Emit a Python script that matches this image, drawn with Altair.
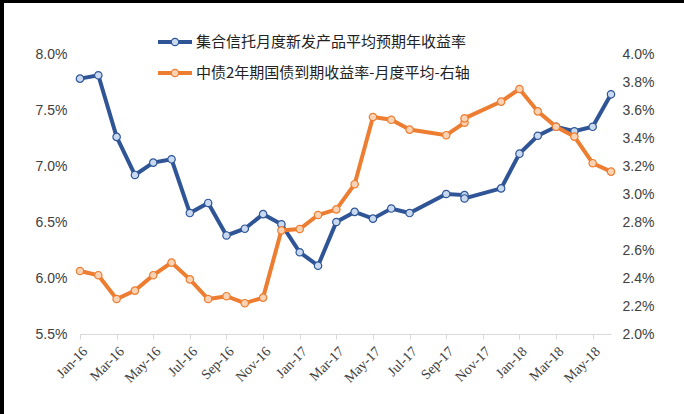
import altair as alt
import pandas as pd

month_labels = ["Jan-16", "Feb-16", "Mar-16", "Apr-16", "May-16", "Jun-16", "Jul-16", "Aug-16",
                "Sep-16", "Oct-16", "Nov-16", "Dec-16", "Jan-17", "Feb-17", "Mar-17", "Apr-17",
                "May-17", "Jun-17", "Jul-17", "Aug-17", "Sep-17", "Oct-17", "Nov-17", "Dec-17",
                "Jan-18", "Feb-18", "Mar-18", "Apr-18", "May-18", "Jun-18"]

trust_idx = [0, 1, 2, 3, 4, 5, 6, 7, 8, 9, 10, 11, 12, 13, 14, 15, 16, 17, 18, 20, 21, 21, 23,
             24, 25, 26, 27, 28, 29]
trust_rate = [7.78, 7.81, 7.26, 6.92, 7.03, 7.06, 6.58, 6.67, 6.38, 6.44, 6.57, 6.48, 6.23, 6.11,
              6.50, 6.59, 6.53, 6.62, 6.58, 6.75, 6.74, 6.71, 6.80, 7.11, 7.27, 7.35, 7.31, 7.35, 7.64]

bond_idx = [0, 1, 2, 3, 4, 5, 6, 7, 8, 9, 10, 11, 12, 13, 14, 15, 16, 17, 18, 20, 21, 21, 23,
            24, 25, 26, 27, 28, 29]
bond_rate = [2.45, 2.42, 2.25, 2.31, 2.42, 2.51, 2.39, 2.25, 2.27, 2.22, 2.26, 2.74, 2.75, 2.85,
             2.89, 3.07, 3.55, 3.53, 3.46, 3.42, 3.51, 3.54, 3.66, 3.75, 3.59, 3.48, 3.41, 3.22, 3.16]

series_names = ["集合信托月度新发产品平均预期年收益率", "中债2年期国债到期收益率-月度平均-右轴"]
left_ticks = [5.5, 6.0, 6.5, 7.0, 7.5, 8.0]
right_ticks = [2.0, 2.2, 2.4, 2.6, 2.8, 3.0, 3.2, 3.4, 3.6, 3.8, 4.0]
x_ticks = [0, 2, 4, 6, 8, 10, 12, 14, 16, 18, 20, 22, 24, 26, 28]

BLUE = "#2F5597"
BLUE_FILL = "#C9DAF0"
ORANGE = "#ED7D31"
ORANGE_FILL = "#FAD3B4"

trust_df = pd.DataFrame({"t": trust_idx, "v": trust_rate, "seq": list(range(len(trust_idx)))})
bond_df = pd.DataFrame({"t": bond_idx, "v": bond_rate, "seq": list(range(len(bond_idx)))})

label_arr = "[" + ",".join("'" + m + "'" for m in month_labels) + "]"

x_enc = alt.X("t:Q", scale=alt.Scale(domain=[0, 29], nice=False, zero=False),
              axis=alt.Axis(values=x_ticks, labelExpr=label_arr + "[datum.value]", title="",
                            grid=False, domainColor="#D9D9D9", tickColor="#D9D9D9", tickSize=5,
                            labelFont="Liberation Serif", labelFontSize=14, labelColor="#404040",
                            labelAngle=315, labelAlign="right", labelBaseline="top",
                            labelPadding=5, labelOverlap=False))

trust = alt.Chart(trust_df).mark_line(
    color=BLUE, strokeWidth=4,
    point=alt.OverlayMarkDef(filled=True, fill=BLUE_FILL, stroke=BLUE, strokeWidth=1.2, size=55, opacity=1)
).encode(
    x=x_enc,
    y=alt.Y("v:Q", scale=alt.Scale(domain=[5.5, 8.0], nice=False, zero=False),
            axis=alt.Axis(values=left_ticks, labelExpr="format(datum.value, '.1f') + '%'", title="",
                          grid=False, domain=False, ticks=False, labelFont="Liberation Sans",
                          labelFontSize=14, labelColor="#404040", labelPadding=13)),
    order=alt.Order("seq:Q"),
)

bond = alt.Chart(bond_df).mark_line(
    color=ORANGE, strokeWidth=4,
    point=alt.OverlayMarkDef(filled=True, fill=ORANGE_FILL, stroke=ORANGE, strokeWidth=1.2, size=55, opacity=1)
).encode(
    x=x_enc,
    y=alt.Y("v:Q", scale=alt.Scale(domain=[2.0, 4.0], nice=False, zero=False),
            axis=alt.Axis(values=right_ticks, labelExpr="format(datum.value, '.1f') + '%'", title="",
                          orient="right", grid=False, domain=False, ticks=False,
                          labelFont="Liberation Sans", labelFontSize=14, labelColor="#404040",
                          labelPadding=11)),
    order=alt.Order("seq:Q"),
)

one = alt.Data(values=[{"a": 1}])


def legend_entry(name, color, fill, ypix):
    line = alt.Chart(one).mark_rule(color=color, strokeWidth=4).encode(
        x=alt.value(78), x2=alt.value(112), y=alt.value(ypix))
    pt = alt.Chart(one).mark_point(filled=True, fill=fill, stroke=color, strokeWidth=1.2,
                                   size=55, opacity=1).encode(x=alt.value(95), y=alt.value(ypix))
    txt = alt.Chart(one).mark_text(align="left", baseline="middle", font="Noto Sans CJK SC",
                                   fontSize=15, color="#222222").encode(
        x=alt.value(116), y=alt.value(ypix), text=alt.value(name))
    return [line, pt, txt]


leg = legend_entry(series_names[0], BLUE, BLUE_FILL, -12) + legend_entry(series_names[1], ORANGE, ORANGE_FILL, 19)

border_left = alt.Chart(one).mark_rule(color="black", strokeWidth=4).encode(
    x=alt.value(-78), y=alt.value(-54), y2=alt.value(360))
border_top = alt.Chart(one).mark_rule(color="black", strokeWidth=3).encode(
    x=alt.value(-80), x2=alt.value(604), y=alt.value(-52.5))

chart = alt.layer(trust, bond, *leg, border_left, border_top).resolve_scale(
    y="independent"
).properties(
    width=531, height=280,
    autosize=alt.AutoSizeParams(type="none"),
    padding={"left": 80, "top": 54, "right": 73, "bottom": 80},
    background="white",
).configure_view(stroke="transparent")

chart.save("out.html", embed_options={"renderer": "svg", "actions": False})
